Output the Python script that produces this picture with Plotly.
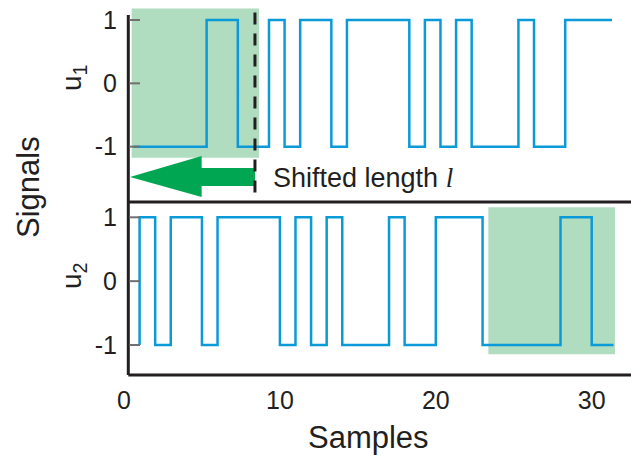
import plotly.graph_objects as go

# ---- data ----
# u1: step start times (samples) and levels (shifted copy of u2)
u1_t = [0.6, 5.3, 7.3, 9.3, 10.3, 11.3, 13.3, 14.3, 18.3, 19.3, 20.3, 21.3, 22.3, 25.3, 26.3, 28.3, 31.3]
u1_v = [-1, 1, -1, 1, -1, 1, -1, 1, -1, 1, -1, 1, -1, 1, -1, 1, 1]
# u2: step start times (samples) and levels
u2_t = [1, 1, 2, 3, 5, 6, 10, 11, 12, 13, 14, 17, 18, 20, 23, 28, 30, 31.4]
u2_v = [-1, 1, -1, 1, -1, 1, -1, 1, -1, 1, -1, 1, -1, 1, -1, 1, -1, -1]
x_ticks = [0, 10, 20, 30]
x_ticktext = ["0", "10", "20", "30"]
y_ticks = [-1, 0, 1]
y_ticktext = ["-1", "0", "1"]
shift_l = 8.4
win1 = [0.49, 8.66]
win2 = [23.37, 31.49]

W, H = 631, 455
L, R, T, B = 124, 0, 8, 80
PW, PH = W - L - R, H - T - B

def px(xp):
    return (xp - L) / PW

def py(yp):
    return (H - B - yp) / PH

split = py(202)
BLUE = "#0b9ad8"
GREEN_L = "#b0dcbf"
GREEN = "#00a651"
DARK = "#231f20"
FONT = "Liberation Sans, Arial, sans-serif"

fig = go.Figure()
fig.add_trace(go.Scatter(x=u1_t, y=u1_v, mode="lines", line=dict(color=BLUE, width=2.5, shape="hv"),
                         xaxis="x", yaxis="y2", showlegend=False))
fig.add_trace(go.Scatter(x=u2_t, y=u2_v, mode="lines", line=dict(color=BLUE, width=2.5, shape="hv"),
                         xaxis="x", yaxis="y", showlegend=False))

shapes = []
# green windows (below traces)
shapes.append(dict(type="rect", xref="x", yref="y2", x0=win1[0], x1=win1[1], y0=-1.174, y1=1.18,
                   fillcolor=GREEN_L, line=dict(width=0), layer="below"))
shapes.append(dict(type="rect", xref="x", yref="y", x0=win2[0], x1=win2[1], y0=-1.146, y1=1.157,
                   fillcolor=GREEN_L, line=dict(width=0), layer="below"))
# arrow (top panel coords)
ax_tip, ax_base, ax_end = 0.385, 4.98, shift_l
path = (f"M {ax_tip},-1.479 L {ax_base},-1.147 L {ax_base},-1.337 L {ax_end},-1.337 "
        f"L {ax_end},-1.621 L {ax_base},-1.621 L {ax_base},-1.795 Z")
shapes.append(dict(type="path", xref="x", yref="y2", path=path, fillcolor=GREEN, line=dict(width=0)))
# dashed line
shapes.append(dict(type="line", xref="x", yref="y2", x0=shift_l, x1=shift_l, y0=1.12, y1=-1.87,
                   line=dict(color=DARK, width=3, dash="12px,9px")))
# frame lines
xl = (128.3 - L) / 15.59
shapes.append(dict(type="line", xref="x", yref="paper", x0=xl, x1=40, y0=split, y1=split,
                   line=dict(color=DARK, width=3)))
shapes.append(dict(type="line", xref="x", yref="paper", x0=xl, x1=40, y0=0, y1=0,
                   line=dict(color=DARK, width=3)))
shapes.append(dict(type="line", xref="x", yref="paper", x0=xl, x1=xl, y0=0, y1=py(15),
                   line=dict(color=DARK, width=3)))
# y tick marks (gray, inward)
for yr in ["y", "y2"]:
    for v in y_ticks:
        shapes.append(dict(type="line", xref="paper", yref=yr, x0=px(129.5), x1=px(140), y0=v, y1=v,
                           line=dict(color="#707070", width=2)))

def ann(text, xp, yp, size, angle=0, xanchor="center"):
    return dict(text=text, x=px(xp), y=py(yp), xref="paper", yref="paper", showarrow=False,
                textangle=angle, xanchor=xanchor, yanchor="middle",
                font=dict(size=size, color=DARK, family=FONT))

annotations = [
    ann("Signals", 28, 187, 31, -90),
    ann("u<sub>1</sub>", 73, 78, 28, -90),
    ann("u<sub>2</sub>", 73, 276, 28, -90),
    ann('Shifted length <span style="font-family:Liberation Serif, Times New Roman, serif"><i>l</i></span>',
        271, 178, 27, 0, "left"),
    ann("Samples", 368, 437, 31),
]

tickfont = dict(size=25, color=DARK, family=FONT)
fig.update_layout(
    width=W, height=H, margin=dict(l=L, r=R, t=T, b=B),
    paper_bgcolor="white", plot_bgcolor="white",
    shapes=shapes, annotations=annotations,
    xaxis=dict(domain=[0, 1], range=[0, PW / 15.59], anchor="y", tickvals=x_ticks, ticktext=x_ticktext,
               showgrid=False, zeroline=False, showline=False, ticks="", ticklabelstandoff=8,
               tickfont=tickfont),
    yaxis=dict(domain=[0, split], range=[-1.4699, 1.2396], anchor="x", tickvals=y_ticks, ticktext=y_ticktext,
               showgrid=False, zeroline=False, showline=False, ticks="", ticklabelstandoff=6,
               tickfont=tickfont),
    yaxis2=dict(domain=[split, 1], range=[-1.8736, 1.1896], anchor="x", tickvals=y_ticks, ticktext=y_ticktext,
                showgrid=False, zeroline=False, showline=False, ticks="", ticklabelstandoff=6,
                tickfont=tickfont),
)

fig.write_html("out.html")
